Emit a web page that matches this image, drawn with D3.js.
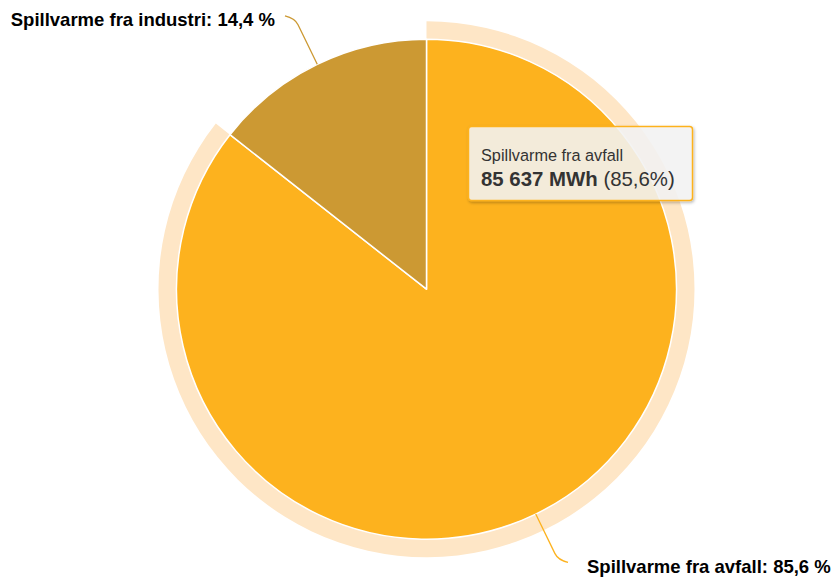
<!DOCTYPE html>
<html>
<head>
<meta charset="utf-8">
<script src="https://cdn.jsdelivr.net/npm/d3@7"></script>
<style>
  html, body { margin: 0; padding: 0; background: #ffffff; }
  svg { display: block; font-family: "Liberation Sans", Arial, Helvetica, sans-serif; }
</style>
</head>
<body>
<svg id="chart" width="835" height="579"></svg>
<script>
// Heat sources (MWh)
const categories = ["Spillvarme fra avfall", "Spillvarme fra industri"];
const values = [85637, 14400];
const colors = ["#FDB21E", "#CC9933"];
const haloColor = "#FEE6C6";
const unit = "MWh";
const highlighted = 0;   // slice shown with halo and tooltip

const width = 835, height = 579;
const cx = 426.5, cy = 289.2, radius = 250;
const haloSize = 18;
const connectorDistance = 51;

const nb = d3.formatLocale({ decimal: ",", thousands: "\u00a0", grouping: [3], currency: ["", " kr"] });
const fmtValue = nb.format(",.0f");
const fmtPct = nb.format(".1f");

const total = d3.sum(values);
const pct = v => fmtPct(v / total * 100);

const svg = d3.select("#chart");
const defs = svg.append("defs");
const shadow = defs.append("filter").attr("id", "tipShadow")
  .attr("x", "-10%").attr("y", "-10%").attr("width", "130%").attr("height", "140%");
shadow.append("feDropShadow").attr("dx", 1).attr("dy", 1.5)
  .attr("stdDeviation", 1.5).attr("flood-color", "#000").attr("flood-opacity", 0.3);

const pie = d3.pie().sort(null).value(d => d)
  .startAngle(0).endAngle(2 * Math.PI);
const arcs = pie(values);

const arc = d3.arc().innerRadius(0).outerRadius(radius);
const haloArc = d3.arc().innerRadius(radius).outerRadius(radius + haloSize);

const g = svg.append("g").attr("transform", `translate(${cx},${cy})`);

// halo behind the highlighted slice
g.append("path")
  .attr("d", haloArc(arcs[highlighted]))
  .attr("fill", haloColor);

// slices
g.selectAll("path.slice")
  .data(arcs)
  .join("path")
  .attr("class", "slice")
  .attr("d", arc)
  .attr("fill", (d, i) => colors[i])
  .attr("stroke", "#ffffff")
  .attr("stroke-width", 1.5)
  .attr("stroke-linejoin", "round");

// data labels with bent connectors
const polar = (a, r) => [r * Math.sin(a), -r * Math.cos(a)];
arcs.forEach((d, i) => {
  const a = (d.startAngle + d.endAngle) / 2;
  const sx = Math.sin(a) >= 0 ? 1 : -1;
  const sy = Math.cos(a) >= 0 ? -1 : 1;
  const edge = polar(a, radius);
  const corner = polar(a, radius + connectorDistance);
  const before = polar(a, radius + connectorDistance - 7);
  const end = [corner[0] + sx * 10, corner[1] + sy * 2.5];

  g.append("path")
    .attr("d", `M${edge[0]},${edge[1]}L${before[0]},${before[1]}Q${corner[0]},${corner[1]} ${end[0]},${end[1]}`)
    .attr("fill", "none")
    .attr("stroke", colors[i])
    .attr("stroke-width", 1.3);

  const gap = sx > 0 ? 19 : 10;
  g.append("text")
    .attr("x", end[0] + sx * gap)
    .attr("y", end[1] + 10.5)
    .attr("text-anchor", sx > 0 ? "start" : "end")
    .attr("font-size", "18.5px")
    .attr("font-weight", "bold")
    .attr("fill", "#000000")
    .text(`${categories[i]}: ${pct(values[i])} %`);
});

// tooltip for highlighted slice
const tip = svg.append("g").attr("transform", "translate(468.5,126.5)");
tip.append("rect")
  .attr("width", 224).attr("height", 74).attr("rx", 3).attr("ry", 3)
  .attr("fill", "rgba(247,247,247,0.85)")
  .attr("stroke", colors[highlighted])
  .attr("stroke-width", 1.5)
  .attr("filter", "url(#tipShadow)");
tip.append("text")
  .attr("x", 12.5).attr("y", 34.8)
  .attr("font-size", "16.3px")
  .attr("fill", "#333333")
  .text(categories[highlighted]);
const line2 = tip.append("text")
  .attr("x", 12.5).attr("y", 59.5)
  .attr("font-size", "20.4px")
  .attr("fill", "#333333");
line2.append("tspan").attr("font-weight", "bold")
  .text(`${fmtValue(values[highlighted])} ${unit}`);
line2.append("tspan").text(` (${pct(values[highlighted])}%)`);
</script>
</body>
</html>
